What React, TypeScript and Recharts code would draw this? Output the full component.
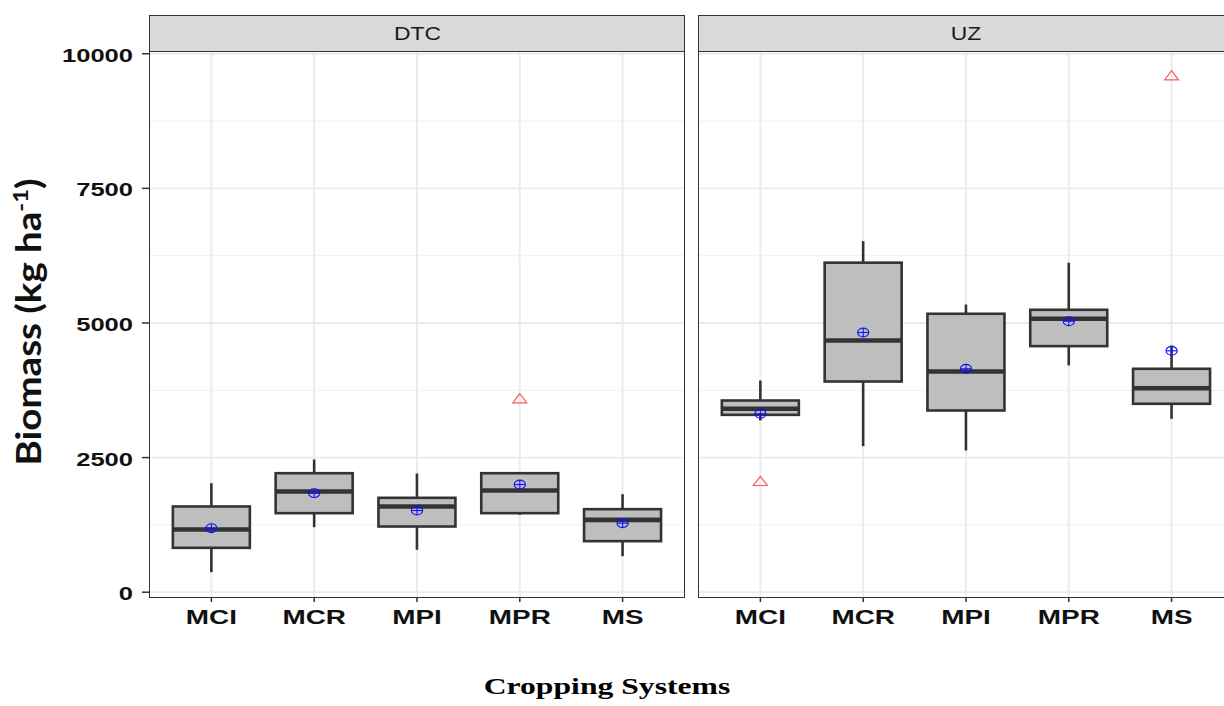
import { ComposedChart, Bar, Scatter, XAxis, YAxis, CartesianGrid } from 'recharts'

const systems = ['MCI', 'MCR', 'MPI', 'MPR', 'MS']

// DTC site, biomass (kg/ha)
const dtcMin = [372, 1208, 787, 1437, 669]
const dtcQ1 = [824, 1468, 1220, 1468, 948]
const dtcMedian = [1164, 1870, 1592, 1889, 1344]
const dtcQ3 = [1592, 2210, 1753, 2210, 1542]
const dtcMax = [2025, 2465, 2205, 2210, 1820]
const dtcMean = [1189, 1840, 1517, 2000, 1282]
const dtcOutlier = [null, null, null, 3592, null]

// UZ site, biomass (kg/ha)
const uzMin = [3189, 2712, 2632, 4211, 3220]
const uzQ1 = [3294, 3913, 3375, 4570, 3499]
const uzMedian = [3406, 4675, 4099, 5078, 3789]
const uzQ3 = [3560, 6120, 5171, 5245, 4149]
const uzMax = [3932, 6520, 5343, 6120, 4580]
const uzMean = [3313, 4823, 4149, 5033, 4483]
const uzOutlier = [2056, null, null, null, 9590]

const yTicks = [0, 2500, 5000, 7500, 10000]
const yMinor = [1250, 3750, 6250, 8750]
const yDomain: [number, number] = [-89, 10051]

type Row = {
  system: string
  min: number
  q1: number
  median: number
  q3: number
  max: number
  mean: number
  outlier: number | null
}

function buildRows(
  min: number[], q1: number[], median: number[], q3: number[],
  max: number[], mean: number[], outlier: (number | null)[],
): Row[] {
  return systems.map((system, i) => ({
    system,
    min: min[i],
    q1: q1[i],
    median: median[i],
    q3: q3[i],
    max: max[i],
    mean: mean[i],
    outlier: outlier[i],
  }))
}

const dtcRows = buildRows(dtcMin, dtcQ1, dtcMedian, dtcQ3, dtcMax, dtcMean, dtcOutlier)
const uzRows = buildRows(uzMin, uzQ1, uzMedian, uzQ3, uzMax, uzMean, uzOutlier)

const SANS = "'Liberation Sans', Arial, Helvetica, sans-serif"
const SERIF = "'Liberation Serif', 'Times New Roman', serif"
const INK = '#333333'

const CHART_H = 640
const PLOT_TOP = 51
const PLOT_BOTTOM = 597
const XAXIS_H = CHART_H - PLOT_BOTTOM

// the bar spans whisker min..max; the other stats are placed on the same linear scale
function BoxShape(props: any) {
  const { x, y, width, height, payload } = props
  if (x == null || y == null) return <g />
  const top = Math.min(y, y + height)
  const bottom = Math.max(y, y + height)
  const span = payload.max - payload.min
  const px = (v: number) => bottom - ((v - payload.min) / span) * (bottom - top)
  const cx = x + width / 2
  const yq1 = px(payload.q1)
  const yq3 = px(payload.q3)
  const ymed = px(payload.median)
  return (
    <g>
      <line x1={cx} x2={cx} y1={top} y2={yq3} stroke={INK} strokeWidth={2.6} />
      <line x1={cx} x2={cx} y1={yq1} y2={bottom} stroke={INK} strokeWidth={2.6} />
      <rect x={x} y={yq3} width={width} height={yq1 - yq3} fill="#bebebe" stroke={INK} strokeWidth={2.6} />
      <line x1={x} x2={x + width} y1={ymed} y2={ymed} stroke={INK} strokeWidth={4.6} />
    </g>
  )
}

// vertical major grid line through each category
function CategoryGridLine(props: any) {
  const { x, y, width, height } = props
  if (x == null) return <g />
  const cx = x + width / 2
  return <line x1={cx} x2={cx} y1={y} y2={y + height} stroke="#ebebeb" strokeWidth={2} />
}

function MeanMark(props: any) {
  const { cx, cy } = props
  if (cx == null || cy == null) return <g />
  const rx = 5.6
  const ry = 4.4
  return (
    <g stroke="#1010ff" strokeWidth={1.1} fill="none">
      <ellipse cx={cx} cy={cy} rx={rx} ry={ry} />
      <line x1={cx - rx} x2={cx + rx} y1={cy} y2={cy} />
      <line x1={cx} x2={cx} y1={cy - ry} y2={cy + ry} />
    </g>
  )
}

function OutlierMark(props: any) {
  const { cx, cy, payload } = props
  if (payload?.outlier == null || cx == null || cy == null) return <g />
  const pts = `${cx},${cy - 5.2} ${cx + 7},${cy + 4} ${cx - 7},${cy + 4}`
  return <polygon points={pts} fill="none" stroke="#ff5a5a" strokeWidth={1.2} />
}

function XTick(props: any) {
  const { x, y, payload } = props
  return (
    <g transform={`translate(${x},${y})`}>
      <text
        transform="scale(1.33,1)"
        textAnchor="middle"
        y={22}
        fontSize={21}
        fontWeight={700}
        fontFamily={SANS}
        fill="#111"
      >
        {payload.value}
      </text>
    </g>
  )
}

function YTick(props: any) {
  const { x, y, payload } = props
  return (
    <g transform={`translate(${x},${y})`}>
      <text
        transform="scale(1.38,1)"
        textAnchor="end"
        y={8}
        fontSize={18.5}
        fontWeight={700}
        fontFamily={SANS}
        fill="#111"
      >
        {payload.value}
      </text>
    </g>
  )
}

function Panel({ rows, withYAxis, width }: { rows: Row[]; withYAxis: boolean; width: number }) {
  return (
    <ComposedChart
      width={width}
      height={CHART_H}
      data={rows}
      margin={{ top: PLOT_TOP, right: 0, bottom: 0, left: 0 }}
      barCategoryGap="12.5%"
    >
      <CartesianGrid horizontalValues={yMinor} vertical={false} stroke="#f3f3f3" strokeWidth={1.2} />
      <CartesianGrid horizontalValues={yTicks} vertical={false} stroke="#ebebeb" strokeWidth={1.8} />
      <XAxis
        dataKey="system"
        type="category"
        interval={0}
        padding={{ left: 10, right: 10 }}
        height={XAXIS_H}
        axisLine={false}
        tickSize={5}
        tickMargin={0}
        tickLine={{ stroke: INK, strokeWidth: 1.5 }}
        tick={<XTick />}
      />
      {withYAxis ? (
        <YAxis
          type="number"
          domain={yDomain}
          ticks={yTicks}
          interval={0}
          allowDataOverflow
          width={150}
          axisLine={false}
          tickSize={8}
          tickMargin={9}
          tickLine={{ stroke: INK, strokeWidth: 1.5 }}
          tick={<YTick />}
        />
      ) : (
        <YAxis type="number" domain={yDomain} ticks={yTicks} allowDataOverflow hide />
      )}
      <Bar
        dataKey={(d: Row) => [d.min, d.max]}
        shape={BoxShape}
        background={CategoryGridLine}
        isAnimationActive={false}
      />
      <Scatter dataKey="mean" shape={MeanMark} isAnimationActive={false} />
      <Scatter dataKey="outlier" shape={OutlierMark} isAnimationActive={false} />
    </ComposedChart>
  )
}

function Strip({ left, width, label }: { left: number; width: number; label: string }) {
  return (
    <div
      style={{
        position: 'absolute',
        left,
        top: 15,
        width,
        height: PLOT_TOP - 15 + 1,
        boxSizing: 'border-box',
        background: '#d9d9d9',
        border: `1.5px solid ${INK}`,
        display: 'flex',
        alignItems: 'center',
        justifyContent: 'center',
        fontFamily: SANS,
        fontSize: 18,
        color: '#1a1a1a',
      }}
    >
      <span style={{ display: 'inline-block', transform: 'scaleX(1.27)', marginTop: 2 }}>{label}</span>
    </div>
  )
}

function PanelFrame({ left, width }: { left: number; width: number }) {
  return (
    <div
      style={{
        position: 'absolute',
        left,
        top: PLOT_TOP - 1,
        width,
        height: PLOT_BOTTOM - PLOT_TOP + 2,
        boxSizing: 'border-box',
        border: `1.5px solid ${INK}`,
        pointerEvents: 'none',
      }}
    />
  )
}

export default function App() {
  const leftPlotX = 150
  const rightPlotX = 699
  const plotW = 534
  return (
    <div
      style={{
        position: 'absolute',
        left: 0,
        top: 0,
        width: 1224,
        height: 706,
        overflow: 'hidden',
        background: '#fff',
      }}
    >
      <div style={{ position: 'absolute', left: 0, top: 0 }}>
        <Panel rows={dtcRows} withYAxis width={leftPlotX + plotW} />
      </div>
      <div style={{ position: 'absolute', left: rightPlotX, top: 0 }}>
        <Panel rows={uzRows} withYAxis={false} width={plotW} />
      </div>

      <PanelFrame left={leftPlotX - 1} width={plotW + 2} />
      <PanelFrame left={rightPlotX - 1} width={plotW + 2} />
      <Strip left={leftPlotX - 1} width={plotW + 2} label="DTC" />
      <Strip left={rightPlotX - 1} width={plotW + 2} label="UZ" />

      <svg width={1224} height={706} style={{ position: 'absolute', left: 0, top: 0, pointerEvents: 'none' }}>
        <g transform="translate(41,322) rotate(-90) scale(1,1.33)">
          <text
            textAnchor="middle"
            fontFamily="Lato, 'Open Sans', sans-serif"
            fontWeight={700}
            fontSize={26}
            fill="#111"
            textLength={287}
            lengthAdjust="spacingAndGlyphs"
          >
            Biomass (kg ha
            <tspan fontSize={16} dy={-10}>-1</tspan>
            <tspan dy={10}>)</tspan>
          </text>
        </g>
        <g transform="translate(607,694) scale(1.32,1)">
          <text textAnchor="middle" fontFamily={SERIF} fontWeight={700} fontSize={24} fill="#000">
            Cropping Systems
          </text>
        </g>
      </svg>
    </div>
  )
}
